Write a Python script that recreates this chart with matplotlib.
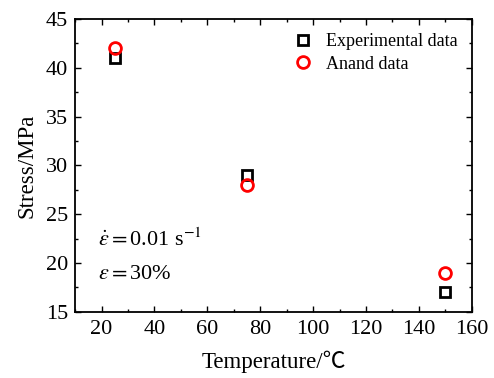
import matplotlib
matplotlib.use('Agg')
import matplotlib.pyplot as plt
from matplotlib.ticker import MultipleLocator

# data
temp = [25, 75, 150]
stress_exp = [41, 29, 17]
stress_anand = [42, 28, 19]

plt.rcParams['font.family'] = ['Liberation Serif', 'Noto Sans CJK SC']
plt.rcParams['mathtext.fontset'] = 'stix'


def main():
    fig = plt.figure(figsize=(4.94, 3.78), dpi=100)
    ax = fig.add_axes([0.152, 0.175, 0.803, 0.775])

    ax.plot(temp, stress_exp, 's', ms=6.5, mfc='none', mec='black', mew=2,
            label='Experimental data')
    ax.plot(temp, stress_anand, 'o', ms=8.5, mfc='none', mec='red', mew=2,
            label='Anand data')

    ax.set_xlim(10, 160)
    ax.set_ylim(15, 45)
    ax.xaxis.set_major_locator(MultipleLocator(20))
    ax.xaxis.set_minor_locator(MultipleLocator(10))
    ax.yaxis.set_major_locator(MultipleLocator(5))
    ax.yaxis.set_minor_locator(MultipleLocator(2.5))
    ax.tick_params(which='both', direction='in', top=True, right=True,
                   labelsize=16, width=1)
    ax.tick_params(axis='x', pad=6)
    ax.tick_params(axis='y', pad=5)
    ax.tick_params(which='major', length=4)
    ax.tick_params(which='minor', length=2.5)
    for s in ax.spines.values():
        s.set_linewidth(1.3)

    ax.set_xlabel('Temperature/\u2103', fontsize=16.5, labelpad=8)
    ax.set_ylabel('Stress/MPa', fontsize=16.5, labelpad=6)

    ax.text(18.5, 22.4, r'$\dot{\varepsilon}=$0.01 s$^{\mathrm{-1}}$',
            fontsize=16, va='center')
    ax.text(18.5, 18.8, r'$\varepsilon=$30%', fontsize=16, va='center')

    ax.legend(loc='upper right', frameon=False, fontsize=13,
              handletextpad=0.5, borderaxespad=0.4, labelspacing=0.3,
              handlelength=1.5)

    fig.savefig('out.png', dpi=100)


if __name__ == "__main__":
    main()
